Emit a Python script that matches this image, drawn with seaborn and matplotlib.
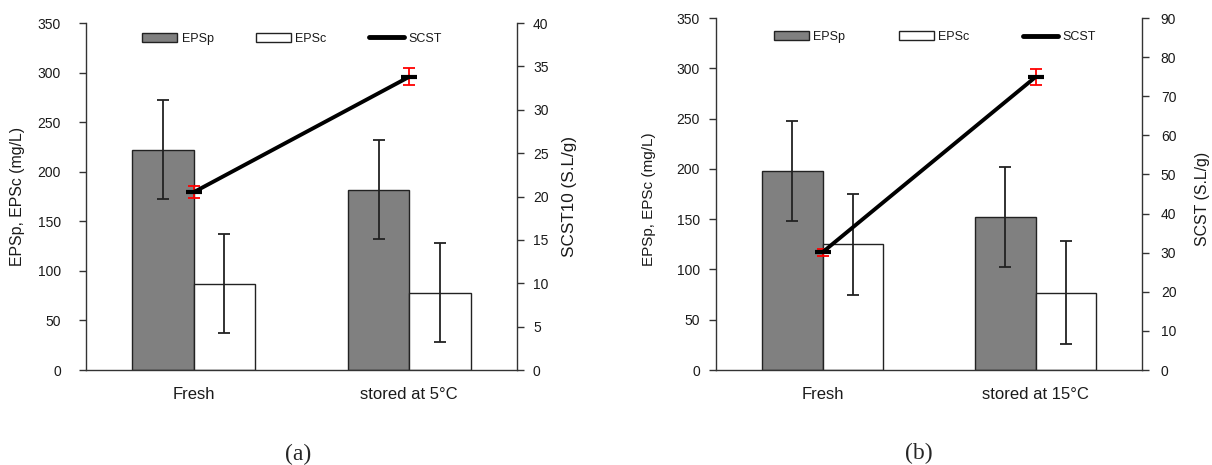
import numpy as np
import pandas as pd
import matplotlib
matplotlib.use("Agg")
import matplotlib.pyplot as plt
import seaborn as sns
from matplotlib.patches import Patch
from matplotlib.lines import Line2D

# ---- data ----
series = ["EPSp", "EPSc"]
conds_a = ["Fresh", "stored at 5°C"]
epsp_a = [222, 182]
epsp_a_err = [50, 50]
epsc_a = [87, 78]
epsc_a_err = [50, 50]
scst_a = [20.5, 33.8]
scst_a_err = [0.7, 1.0]

conds_b = ["Fresh", "stored at 15°C"]
epsp_b = [198, 152]
epsp_b_err = [50, 50]
epsc_b = [125, 77]
epsc_b_err = [50, 51]
scst_b = [30.1, 74.9]
scst_b_err = [0.9, 2.1]

left_ticks = list(range(0, 351, 50))
right_ticks_a = list(range(0, 41, 5))
right_ticks_b = list(range(0, 91, 10))

sns.set_style("ticks")
plt.rcParams['font.family'] = ['Liberation Sans', 'DejaVu Sans']

W, H = 1212, 465
fig = plt.figure(figsize=(W / 100, H / 100), dpi=100)

SPINE = '#333333'
TXT = '#1a1a1a'


def panel(rect, conds, epsp, epsp_err, epsc, epsc_err, scst, scst_err,
          rticks, rlabel, lpad, rpad, leg_cx, leg_cy, colsp,
          llab_x, rlab_x, lab_y, lfs, rfs, rtfs):
    ax = fig.add_axes(rect)
    df = pd.DataFrame({
        "cond": conds * 2,
        "series": [series[0]] * len(conds) + [series[1]] * len(conds),
        "val": epsp + epsc,
    })
    sns.barplot(data=df, x="cond", y="val", hue="series", order=conds,
                hue_order=series, palette={"EPSp": "#808080", "EPSc": "white"},
                width=0.57, saturation=1, edgecolor="#222222", linewidth=1.0,
                errorbar=None, legend=False, ax=ax)
    for cont, vals, errs in zip(ax.containers, [epsp, epsc], [epsp_err, epsc_err]):
        xs = [b.get_x() + b.get_width() / 2 for b in cont]
        ax.errorbar(xs, vals, yerr=errs, fmt='none', ecolor='#222222',
                    elinewidth=1.3, capsize=4, capthick=1.3, zorder=3)
    ax.set_xlim(-0.5, len(conds) - 0.5)
    ax.set_ylim(0, 350)
    ax.set_yticks(left_ticks)
    ax.set_xlabel("")
    ax.set_ylabel("EPSp, EPSc (mg/L)", fontsize=lfs, va='center', color=TXT)
    ax.yaxis.set_label_coords(llab_x, lab_y)
    ax.tick_params(axis='x', length=0, pad=12, labelsize=12, labelcolor=TXT)
    ax.tick_params(axis='y', direction='out', length=5, width=1, color=SPINE,
                   pad=lpad, labelsize=10, labelcolor=TXT)
    for s in ['top', 'right']:
        ax.spines[s].set_visible(False)
    for s in ['left', 'bottom']:
        ax.spines[s].set_color(SPINE)
        ax.spines[s].set_linewidth(1)

    ax2 = ax.twinx()
    pos = np.arange(len(conds))
    ax2.errorbar(pos, scst, yerr=scst_err, fmt='none', ecolor='red',
                 elinewidth=1.3, capsize=4, capthick=1.3, zorder=4)
    ax2.plot(pos, scst, color='black', lw=2.8, marker='_', ms=12, mew=3,
             zorder=5)
    ax2.set_ylim(rticks[0], rticks[-1])
    ax2.set_yticks(rticks)
    ax2.set_ylabel(rlabel, fontsize=rfs, va='center', rotation=90, color=TXT)
    ax2.yaxis.set_label_coords(rlab_x, lab_y)
    ax2.tick_params(axis='y', direction='out', length=5, width=1, color=SPINE,
                    pad=rpad, labelsize=rtfs, labelcolor=TXT)
    for s in ['top', 'left', 'bottom']:
        ax2.spines[s].set_visible(False)
    ax2.spines['right'].set_color(SPINE)
    ax2.spines['right'].set_linewidth(1)

    handles = [Patch(facecolor='#808080', edgecolor='#222222', linewidth=1),
               Patch(facecolor='white', edgecolor='#222222', linewidth=1),
               Line2D([0], [0], color='black', lw=3.5)]
    leg = ax2.legend(handles, ["EPSp", "EPSc", "SCST"], ncol=3, loc='center',
                     bbox_to_anchor=(leg_cx, leg_cy), frameon=False, fontsize=9,
                     handlelength=2.8, handleheight=0.75, handletextpad=0.35,
                     columnspacing=colsp, borderpad=0, borderaxespad=0)
    for t in leg.get_texts():
        t.set_color(TXT)
    return ax, ax2


# panel (a): axes 86..517 x, 23..370 y
panel([86 / W, 1 - 370 / H, 431 / W, 347 / H], conds_a, epsp_a, epsp_a_err,
      epsc_a, epsc_a_err, scst_a, scst_a_err, right_ticks_a, "SCST10 (S.L/g)",
      lpad=13, rpad=6.5, leg_cx=0.478, leg_cy=0.954, colsp=3.4,
      llab_x=-0.158, rlab_x=1.121, lab_y=0.5, lfs=11.4, rfs=12.3, rtfs=10)

# panel (b): axes 716..1142 x, 18..370 y
panel([716 / W, 1 - 370 / H, 426 / W, 352 / H], conds_b, epsp_b, epsp_b_err,
      epsc_b, epsc_b_err, scst_b, scst_b_err, right_ticks_b, "SCST (S.L/g)",
      lpad=6.5, rpad=8.5, leg_cx=0.514, leg_cy=0.946, colsp=4.3,
      llab_x=-0.157, rlab_x=1.143, lab_y=0.485, lfs=11, rfs=11.4, rtfs=10)

fig.text(298 / W, 1 - 454 / H, "(a)", ha='center', va='center',
         family=['Liberation Serif', 'DejaVu Serif'], fontsize=17)
fig.text(919 / W, 1 - 453 / H, "(b)", ha='center', va='center',
         family=['Liberation Serif', 'DejaVu Serif'], fontsize=17)

fig.savefig("out.png", dpi=100)
